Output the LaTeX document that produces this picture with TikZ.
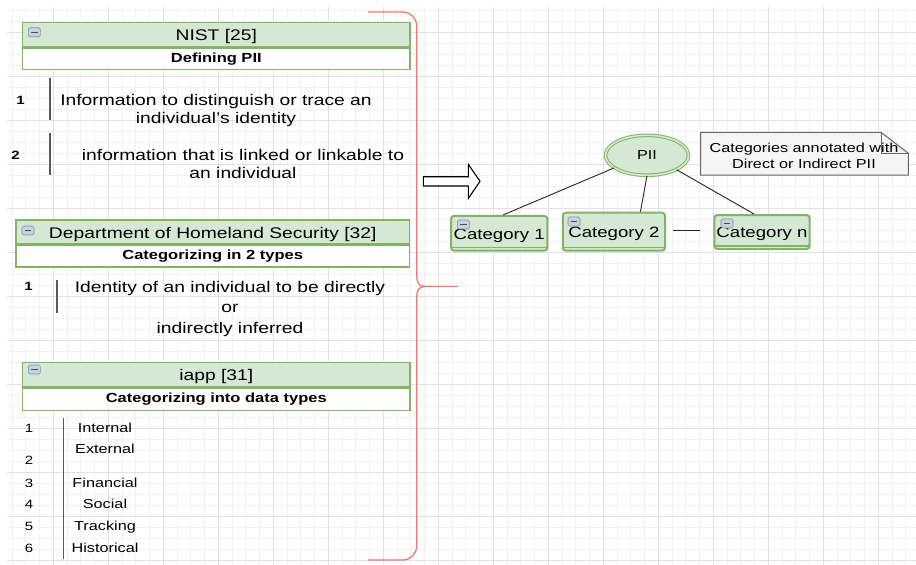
\documentclass[tikz,border=0pt]{standalone}
\usepackage{fontspec}
\setmainfont[FakeStretch=1.25]{Liberation Sans}
\usetikzlibrary{shapes.geometric,calc}
\definecolor{piigreen}{HTML}{82B366}
\definecolor{piifill}{HTML}{D5E8D4}
\definecolor{bracered}{HTML}{EA7A76}
\definecolor{gridminor}{HTML}{F2F2F2}
\definecolor{gridmajor}{HTML}{E1E1E1}
\definecolor{iconfill}{HTML}{C9D3E0}
\definecolor{iconline}{HTML}{7F8EA6}
\definecolor{notefill}{HTML}{F5F5F5}
\definecolor{noteline}{HTML}{666666}

\begin{document}
\begin{tikzpicture}[x=1pt,y=-1pt,
  headbar/.style={draw=piigreen,fill=piifill,line width=1.3pt,inner sep=0pt,
    minimum height=24pt,text height=12pt,text depth=0pt,
    font=\fontsize{15.4}{18}\selectfont},
  subbar/.style={draw=piigreen,fill=white,line width=1.3pt,inner sep=0pt,
    anchor=north,font=\fontsize{13.2}{16}\selectfont\bfseries},
  collapse/.style={draw=iconline,fill=iconfill,rounded corners=1.5pt,line width=.6pt,
    minimum width=12pt,minimum height=9pt,inner sep=0pt,
    path picture={\draw[line width=1.3pt,black!70]
      ([xshift=2.8pt]path picture bounding box.west) --
      ([xshift=-2.8pt]path picture bounding box.east);}},
  itemtxt/.style={align=center,inner sep=0pt,font=\fontsize{15.4}{18}\selectfont},
  itemnum/.style={inner sep=0pt,text height=8.5pt,text depth=0pt,
    font=\fontsize{12}{14}\selectfont\bfseries},
  listtxt/.style={inner sep=0pt,text height=9.5pt,text depth=3pt,
    font=\fontsize{13}{15}\selectfont},
  itembar/.style={line width=1.4pt,black!65},
  category/.style={draw=piigreen,fill=piifill,line width=2pt,rounded corners=3pt,
    inner sep=0pt,text height=11.5pt,text depth=0pt,font=\fontsize{14.9}{17}\selectfont},
  catline/.style={draw=piigreen,line width=1.2pt},
  pii/.style={ellipse,draw=piigreen,fill=piifill,double=piifill,double distance=1.6pt,
    line width=1pt,inner sep=0pt,minimum width=83pt,minimum height=40pt,
    font=\fontsize{13}{15}\selectfont},
  link/.style={line width=.9pt,black!85},
  brace/.style={draw=bracered,line width=1.3pt}]

\useasboundingbox (0,0) rectangle (916,565);
\fill[white] (0,0) rectangle (916,565);

% background grid
\foreach \gx in {12.05,25.8,...,916} \draw[gridminor,line width=.9pt] (\gx,7) -- (\gx,565);
\foreach \gy in {10,21,...,565} \draw[gridminor,line width=.9pt] (7,\gy) -- (916,\gy);
\foreach \gx in {53.3,108.3,...,916} \draw[gridmajor,line width=1pt] (\gx,7) -- (\gx,565);
\foreach \gy in {32,76,...,565} \draw[gridmajor,line width=1pt] (7,\gy) -- (916,\gy);

% NIST
\node[headbar,minimum width=387.5pt] (nist) at (216.3,34.7) {NIST [25]};
\node[subbar,minimum width=387.5pt,minimum height=21.6pt] (nistsub) at (nist.south) {Defining PII};
\node[collapse] (nisticon) at (34.3,32.2) {};
\node[itemnum] (nistnum1) at (20.5,100) {1};
\node[itemnum] (nistnum2) at (15.5,155) {2};
\draw[itembar] (50,78) -- (50,120);
\draw[itembar] (50,133) -- (50,175);
\node[itemtxt] (nistone) at (216,110.5) {Information to distinguish or trace an\\individual’s identity};
\node[itemtxt] (nisttwo) at (243,163.9) {information that is linked or linkable to\\an individual};

% Department of Homeland Security
\node[headbar,minimum width=393.5pt] (dhs) at (212.7,232) {Department of Homeland Security [32]};
\node[subbar,minimum width=393.5pt,minimum height=21.7pt] (dhssub) at (dhs.south) {Categorizing in 2 types};
\node[collapse] (dhsicon) at (28,230.5) {};
\node[itemnum] (dhsnum1) at (28.5,286) {1};
\draw[itembar] (57,280) -- (57,313);
\node[itemtxt,font=\fontsize{15.4}{20.5}\selectfont] (dhsone) at (230,309)
  {Identity of an individual to be directly\\or\\indirectly inferred};

% iapp
\node[headbar,minimum width=387.5pt] (iapp) at (216.3,374.7) {iapp [31]};
\node[subbar,minimum width=387.5pt,minimum height=22.3pt] (iappsub) at (iapp.south) {Categorizing into data types};
\node[collapse] (iappicon) at (34.3,369.5) {};
\draw[itembar] (63.3,418) -- (63.3,559.3);
\foreach \lbl/\ly/\ny [count=\i] in {Internal/429/429,External/450.7/461.7,
    Financial/484/484,Social/505.7/505.7,Tracking/527.3/527.3,Historical/549.3/549.3}{
  \node[listtxt] (type\i) at (105,\ly) {\lbl};
  \node[listtxt,font=\fontsize{12}{14}\selectfont] (typenum\i) at (29,\ny) {\i};
}

% brace
\draw[brace,rounded corners=14pt] (368,12) -- (416.7,12) -- (416.7,274);
\draw[brace] (416.7,273) .. controls (416.7,283) and (418.5,286.5) .. (425,286.5) -- (458.3,286.5);
\draw[brace] (425,286.5) .. controls (418.5,286.5) and (416.7,290) .. (416.7,300);
\draw[brace,rounded corners=14pt] (416.7,299) -- (416.7,560) -- (368,560);

% arrow
\draw[line width=1.1pt,fill=white] (423.3,176.7) -- (468.3,176.7) -- (468.3,164.3)
  -- (480,181.3) -- (468.3,198.5) -- (468.3,186) -- (423.3,186) -- cycle;

% PII tree
\node[pii] (pii) at (647,155.3) {PII};
\node[category,minimum width=96.3pt,minimum height=34.7pt] (cat1) at (499.2,233.3) {Category 1};
\node[category,minimum width=102.3pt,minimum height=38pt] (cat2) at (613.9,231.7) {Category 2};
\node[category,minimum width=95.4pt,minimum height=34pt] (catn) at (762,232) {Category n};
\foreach \c in {cat1,cat2,catn}
  \draw[catline] ($(\c.south west)+(1.5,-4)$) -- ($(\c.south east)+(-1.5,-4)$);
\node[collapse] (cat1icon) at (463.3,224.5) {};
\node[collapse] (cat2icon) at (574,221.5) {};
\node[collapse] (catnicon) at (727,223.5) {};
\draw[link] (pii.201) -- (cat1.78);
\draw[link] (pii.south) -- (cat2.37);
\draw[link] (pii.-26) -- (catn.114);
\coordinate (gapleft) at (673.3,230);
\coordinate (gapright) at (700,230);
\draw[link] (gapleft) -- (gapright);

% note
\filldraw[fill=notefill,draw=noteline,line width=1pt] (700.7,132.3) -- (881,132.3)
  -- (908.3,153.3) -- (908.3,175) -- (700.7,175) -- cycle;
\draw[noteline,line width=1pt] (881,132.3) -- (881,153.3) -- (908.3,153.3);
\node[align=center,inner sep=0pt,font=\fontsize{13}{16}\selectfont] (note) at (804,155.5)
  {Categories annotated with\\Direct or Indirect PII};
\end{tikzpicture}
\end{document}
